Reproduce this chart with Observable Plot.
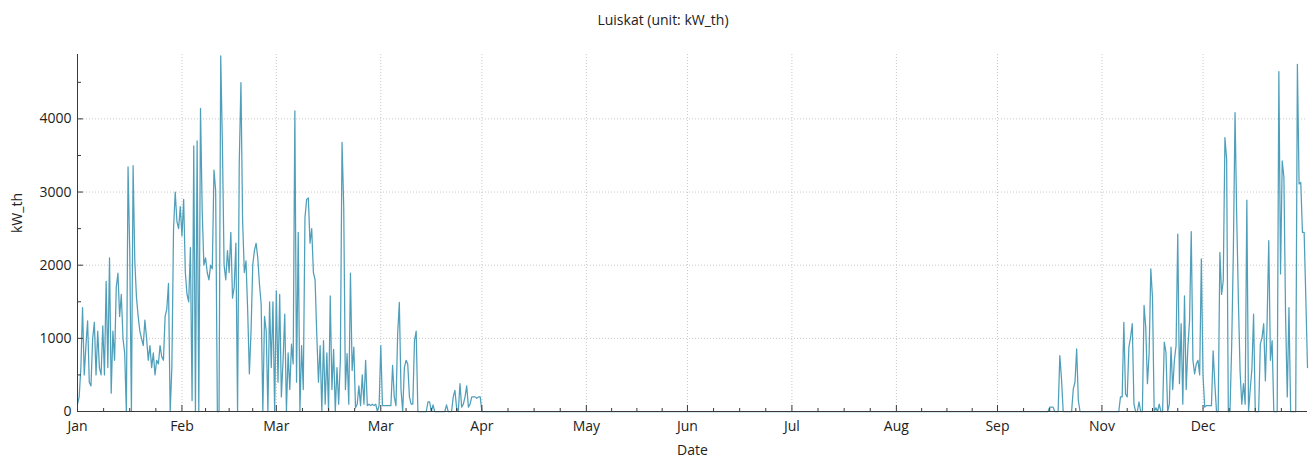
<!DOCTYPE html>
<html>
<head>
<meta charset="utf-8">
<script src="https://cdn.jsdelivr.net/npm/d3@7"></script>
<script src="https://cdn.jsdelivr.net/npm/@observablehq/plot@0.6"></script>
<style>
  html, body { margin: 0; padding: 0; background: #fff; }
  body { font-family: "Open Sans", "Noto Sans", sans-serif; }
  #title { width: 1316px; height: 40px; line-height: 40px; font-size: 14px; text-align: center;
           padding-left: 10px; box-sizing: border-box; color: #222; }
  #chart svg { display: block; }
</style>
</head>
<body>
<div id="title">Luiskat (unit: kW_th)</div>
<div id="chart"></div>
<script>
// ---- data (kW_th, one reading every 12 hours) ----
const year = 2019;
const stepDays = 0.5;
const springStartDay = 0;      // Jan 1
const springKw = [
  100,200, 600,1420, 500,900, 1240,400, 350,1000, 1220,500, 1100,600, 500,1170, 500,1780, 600,2100,
  250,1100, 700,1700, 1890,1300, 1600,1000, 800,0, 3345,2200, 0,3360, 2060,1560, 1300,1100, 1000,900,
  1250,1000, 700,900, 600,800, 500,700, 650,900, 750,700, 1300,1400, 1750,0, 600,2500, 3000,2600,
  2500,2800, 2400,2900, 1900,1600, 1500,2240, 150,3630, 0,3700, 0,4145, 2750,2000, 2100,1900, 1800,2000,
  1950,3300, 3020,0, 0,4860, 3650,2000, 1800,2200, 1900,2450, 1550,1700, 2300,0, 3400,4495, 2600,1900,
  2060,1380, 515,1100, 2000,2200, 2300,2100, 1740,1470, 0,1300, 1100,0, 1500,600, 1500,0, 1650,400,
  1600,200, 700,1330, 0,800, 300,920, 650,4110, 400,2450, 0,900, 300,2650, 2900,2920, 2300,2500,
  1900,1800, 1060,400, 900,0, 970,100, 800,0, 1580,300, 850,0, 600,100, 700,3680, 2800,300,
  790,100, 1890,560, 880,50, 100,350, 80,500, 100,700, 80,100, 80,100, 80,100, 0,80,
  900,80, 80,80, 80,80, 80,630, 200,80, 1060,1490, 300,0, 600,700, 650,200, 100,100,
  970,1100, 0,0, 0,0, 0,0, 130,130, 0,90, 0,0, 0,0, 0,0, 0,90,
  0,0, 0,200, 290,50, 0,380, 60,100, 200,350, 60,100, 200,200, 200,180, 200,200,
  0
];
const autumnStartDay = 286;    // mid October
const autumnKw = [
  0,0, 0,0, 0,60, 60,60, 0,0, 0,765, 445,0, 0,0, 0,0, 0,310,
  400,855, 150,0, 0,0, 0,0, 0,0, 0,0, 0,0, 0,0, 0,0, 0,0,
  0,0, 0,0, 0,0, 0,200, 200,1220, 240,200, 880,1015, 1200,100, 0,0, 130,0,
  0,1450, 1150,380, 790,1950, 1560,0, 50,0, 100,0, 0,950, 810,0, 100,880, 300,700,
  900,2425, 380,1200, 100,1580, 300,880, 1240,2460, 700,515, 650,700, 500,2085, 490,60, 80,80,
  80,80, 830,380, 0,0, 2175,1600, 1790,3745, 3450,0, 0,900, 2200,4085, 2650,1500, 540,100,
  380,100, 2890,0, 300,580, 1330,0, 0,0, 920,1010, 1200,420, 1200,2335, 700,970, 0,0,
  0,4645, 1880,3425, 3200,1290, 200,1420, 0,0, 0,0, 4745,3110, 3130,2450, 2450,1560,
  600
];
const monthTickLabels = ["Jan","Feb","Mar","Mar","Apr","May","Jun","Jul","Aug","Sep","Nov","Dec"];
const yTicks = [0, 1000, 2000, 3000, 4000];
const yMinorTicks = [500, 1500, 2500, 3500, 4500];
const yMax = 4880;

// ---- build ----
const DAY = 864e5;
const t0 = Date.UTC(year, 0, 1);
const toDate = d => new Date(t0 + d * DAY);
const series = [
  ...springKw.map((v, i) => ({date: toDate(springStartDay + i * stepDays), kw: v})),
  ...autumnKw.map((v, i) => ({date: toDate(autumnStartDay + i * stepDays), kw: v}))
];
const monthStarts = d3.range(12).map(m => new Date(Date.UTC(year, m, 1)));
const yearEnd = new Date(Date.UTC(year + 1, 0, 1));
const bounds = [...monthStarts, yearEnd];
const minorX = [];
for (let i = 0; i < 12; i++) {
  const a = +bounds[i], b = +bounds[i + 1];
  for (let k = 1; k < 4; k++) minorX.push(new Date(a + (b - a) * k / 4));
}
const labelByMonth = new Map(monthStarts.map((d, i) => [+d, monthTickLabels[i]]));

const W = 1316, H = 420, mT = 14, mB = 49, mL = 77, mR = 9;
const plotH = H - mT - mB, plotW = W - mL - mR;
const axisColor = "#3a3a3a", gridColor = "#c8c8c8", lineColor = "#4f9fba", textColor = "#222";

const chart = Plot.plot({
  width: W, height: H,
  marginTop: mT, marginBottom: mB, marginLeft: mL, marginRight: mR,
  x: {type: "utc", domain: [monthStarts[0], yearEnd], axis: null},
  y: {domain: [0, yMax], axis: null},
  style: {fontFamily: '"Open Sans", "Noto Sans", sans-serif', fontSize: "14px", background: "#fff", color: textColor},
  marks: [
    Plot.ruleY(yTicks.slice(1), {stroke: gridColor, strokeDasharray: "1,2"}),
    Plot.ruleX(monthStarts.slice(1), {stroke: gridColor, strokeDasharray: "1,2"}),
    Plot.line(series, {x: "date", y: "kw", stroke: lineColor, strokeWidth: 1.25}),
    Plot.tickX(monthStarts, {x: d => d, stroke: axisColor, insetTop: plotH - 6}),
    Plot.tickX(minorX, {x: d => d, stroke: axisColor, insetTop: plotH - 3}),
    Plot.tickY(yTicks, {y: d => d, stroke: axisColor, insetRight: plotW - 6}),
    Plot.tickY(yMinorTicks, {y: d => d, stroke: axisColor, insetRight: plotW - 4}),
    Plot.ruleY([0], {stroke: axisColor}),
    Plot.ruleX([monthStarts[0]], {stroke: axisColor}),
    Plot.text(monthStarts, {x: d => d, frameAnchor: "bottom", dy: 19, text: d => labelByMonth.get(+d), fontSize: 14, fill: textColor}),
    Plot.text(yTicks, {y: d => d, frameAnchor: "left", dx: -6, textAnchor: "end", text: d => String(d), fontSize: 14, fill: textColor}),
    Plot.text(["Date"], {frameAnchor: "bottom", dy: 43, text: d => d, fontSize: 14, fill: textColor}),
    Plot.text(["kW_th"], {frameAnchor: "left", dx: -59.5, rotate: -90, text: d => d, fontSize: 14, fill: textColor})
  ]
});
document.getElementById("chart").appendChild(chart);
</script>
</body>
</html>
